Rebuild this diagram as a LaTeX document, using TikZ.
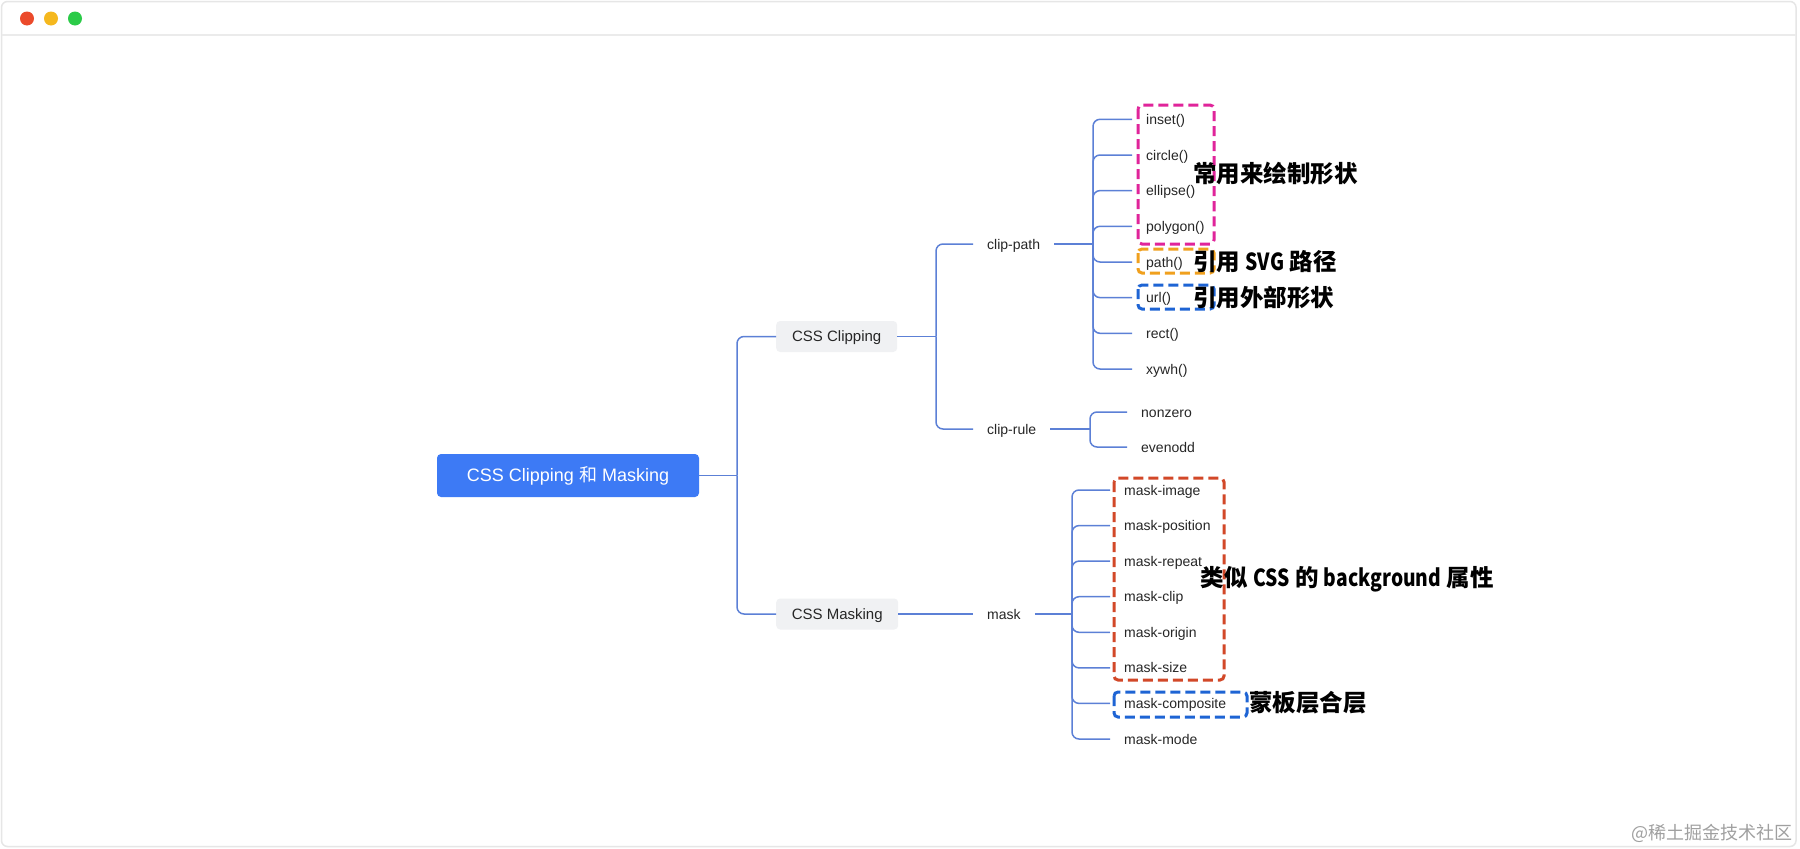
\documentclass[tikz,border=0pt]{standalone}
\usepackage{fontspec}
\usepackage{graphicx}
\setmainfont{Liberation Sans}
\newfontfamily\cjk{Noto Sans CJK SC}
\definecolor{conn}{RGB}{92,128,214}
\definecolor{rootblue}{RGB}{61,122,245}
\definecolor{boxgray}{RGB}{240,241,243}
\definecolor{txt}{RGB}{38,38,38}
\definecolor{dpink}{RGB}{224,36,154}
\definecolor{dorange}{RGB}{240,160,30}
\definecolor{dblue}{RGB}{30,100,212}
\definecolor{dred}{RGB}{210,72,40}
\definecolor{frame}{RGB}{230,230,230}
\definecolor{mred}{RGB}{235,74,43}
\definecolor{myellow}{RGB}{245,184,30}
\definecolor{mgreen}{RGB}{43,203,72}
\definecolor{wmark}{RGB}{160,160,160}
\newcommand{\cond}[1]{\scalebox{0.82}[1]{#1}}
\begin{document}
\begin{tikzpicture}[x=1pt,y=-1pt,
  link/.style={draw=conn,line width=1.5pt,rounded corners=7pt},
  rootbox/.style={fill=rootblue,text=white,rounded corners=4pt,minimum width=262pt,minimum height=43pt,inner sep=0pt,text height=12.9pt,text depth=0pt,font=\fontsize{18}{20}\selectfont},
  grayboxstyle/.style={fill=boxgray,text=txt,rounded corners=4pt,minimum height=31pt,inner sep=0pt,text height=10.7pt,text depth=0pt,font=\fontsize{15}{17}\selectfont,anchor=west},
  leaf/.style={text=txt,inner xsep=14pt,inner ysep=0pt,text height=10pt,text depth=0pt,font=\fontsize{14}{16}\selectfont,anchor=west},
  dbox/.style={line width=3pt,dash pattern=on 10pt off 5pt,rounded corners=4pt},
  note/.style={inner sep=0pt,anchor=west,text=black,text height=17.9pt,text depth=0pt,font=\fontsize{23.5}{26}\selectfont\cjk\bfseries}
]
\useasboundingbox (0,0) rectangle (1800,849);
\fill[white] (0,0) rectangle (1800,849);
% window frame
\draw[frame,line width=1.5pt,rounded corners=6pt] (1.5,1.5) rectangle (1796,846.5);
\draw[frame!80!white,line width=1.2pt] (1.5,35) -- (1796,35);
\fill[mred] (27,18.5) circle (7);
\fill[myellow] (51,18.5) circle (7);
\fill[mgreen] (75,18.5) circle (7);

% nodes
\node[rootbox] (root) at (568,475.5) {CSS Clipping {\cjk 和} Masking};
\node[grayboxstyle,minimum width=121pt] (clip) at (776,336.5) {CSS Clipping};
\node[grayboxstyle,minimum width=122pt] (masking) at (776,614) {CSS Masking};
\node[leaf] (cpath) at (973,244) {clip-path};
\node[leaf] (crule) at (973,429) {clip-rule};
\node[leaf] (mask) at (973,614) {mask};

\node[leaf] (cp0) at (1132,119.3) {inset()};
\node[leaf] (cp1) at (1132,155.0) {circle()};
\node[leaf] (cp2) at (1132,190.6) {ellipse()};
\node[leaf] (cp3) at (1132,226.3) {polygon()};
\node[leaf] (cp4) at (1132,262.0) {path()};
\node[leaf] (cp5) at (1132,297.6) {url()};
\node[leaf] (cp6) at (1132,333.3) {rect()};
\node[leaf] (cp7) at (1132,369.0) {xywh()};

\node[leaf] (cr0) at (1127,412) {nonzero};
\node[leaf] (cr1) at (1127,447) {evenodd};

\node[leaf] (mk0) at (1110,490.0) {mask-image};
\node[leaf] (mk1) at (1110,525.6) {mask-position};
\node[leaf] (mk2) at (1110,561.1) {mask-repeat};
\node[leaf] (mk3) at (1110,596.7) {mask-clip};
\node[leaf] (mk4) at (1110,632.3) {mask-origin};
\node[leaf] (mk5) at (1110,667.9) {mask-size};
\node[leaf] (mk6) at (1110,703.4) {mask-composite};
\node[leaf] (mk7) at (1110,739.0) {mask-mode};

% junctions
\coordinate (jr) at (737,475.5);
\coordinate (jc) at (936,336.5);
\coordinate (jcp) at (1093,244);
\coordinate (jcr) at (1090,429);
\coordinate (jm) at (1072,614);

% connectors
\draw[link] (root.east) -- (jr);
\draw[link] (jr) |- (clip.west);
\draw[link] (jr) |- (masking.west);
\draw[link] (clip.east) -- (jc);
\draw[link] (jc) |- (cpath.west);
\draw[link] (jc) |- (crule.west);
\draw[link] (masking.east) -- (mask.west);
\draw[link] (cpath.east) -- (jcp);
\foreach \i in {0,...,7} \draw[link] (jcp) |- (cp\i.west);
\draw[link] (crule.east) -- (jcr);
\foreach \i in {0,1} \draw[link] (jcr) |- (cr\i.west);
\draw[link] (mask.east) -- (jm);
\foreach \i in {0,...,7} \draw[link] (jm) |- (mk\i.west);

% dashed highlight boxes
\draw[dbox,dpink] (1138,105) rectangle (1214,244);
\draw[dbox,dorange] (1138,249) rectangle (1214,273);
\draw[dbox,dblue] (1138,285) rectangle (1214,309);
\draw[dbox,dred] (1114,478) rectangle (1224,680);
\draw[dbox,dblue] (1114,692) rectangle (1247,717);

% notes
\node[note] (n1) at (1193,174) {常用来绘制形状};
\node[note] (n2) at (1193,262) {引用 \cond{SVG} 路径};
\node[note] (n3) at (1193,297.5) {引用外部形状};
\node[note] (n4) at (1200.7,578) {类似 \cond{CSS} 的 \cond{background} 属性};
\node[note] (n5) at (1249,703) {蒙板层合层};

% watermark
\node[inner sep=0pt,anchor=east,text=wmark,text height=13.7pt,text depth=0pt,font=\fontsize{18}{20}\selectfont\cjk] (wm) at (1793,833) {@稀土掘金技术社区};
\end{tikzpicture}
\end{document}
